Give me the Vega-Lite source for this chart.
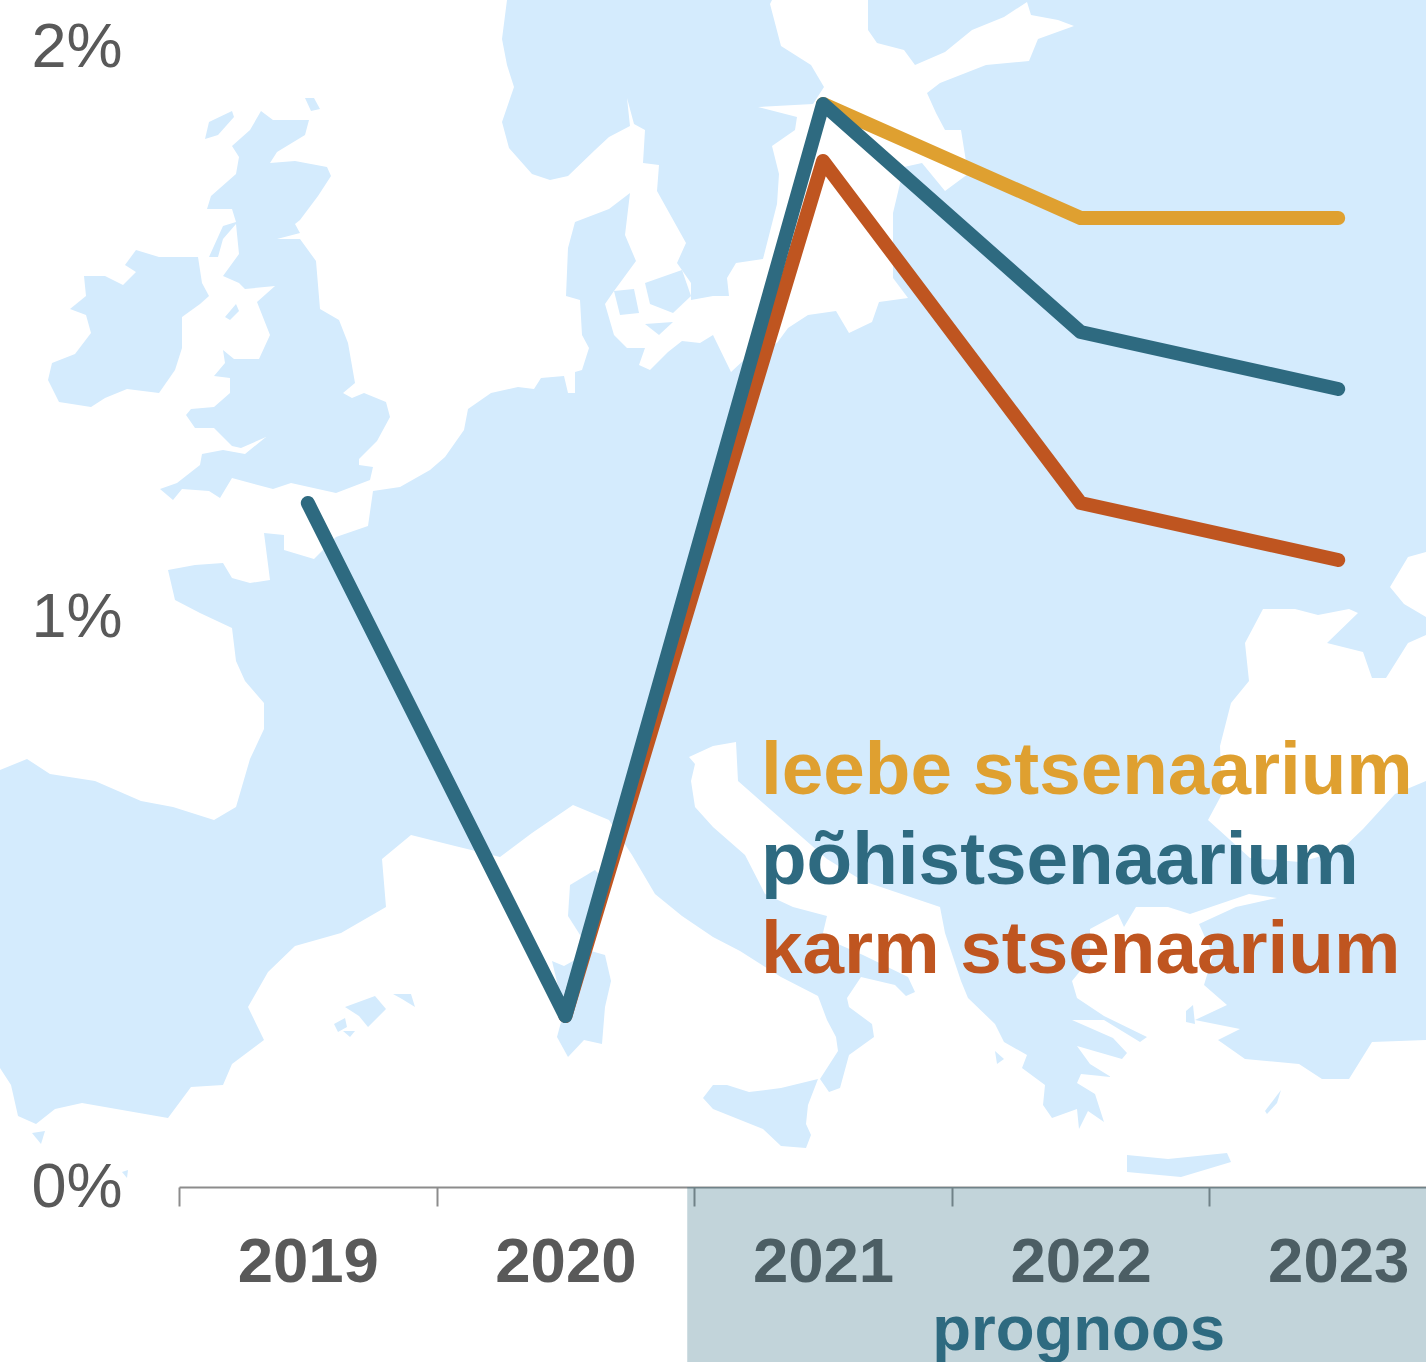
{"$schema":"https://vega.github.io/schema/vega-lite/v6.json","width":1426,"height":1187,"autosize":{"type":"none"},"padding":{"left":0,"top":0,"right":0,"bottom":175},"background":"white","config":{"view":{"stroke":null},"font":"Liberation Sans"},"layer":[{"data":{"values":[{"type":"Feature","properties":{"name":"mainland"},"geometry":{"type":"Polygon","coordinates":[[[868,0],[868,30],[877,43],[904,50],[915,65],[945,52],[972,30],[1004,17],[1027,2],[1031,15],[1058,20],[1074,26],[1038,39],[1029,61],[986,65],[940,83],[927,93],[936,113],[945,130],[961,130],[968,174],[945,191],[922,163],[904,167],[893,213],[893,278],[908,298],[879,302],[872,322],[849,333],[836,311],[808,315],[788,328],[777,343],[745,359],[731,372],[713,335],[700,343],[682,341],[668,352],[650,370],[639,365],[645,348],[627,348],[614,335],[605,304],[614,291],[636,261],[625,235],[630,193],[609,209],[575,222],[568,248],[566,296],[580,300],[582,335],[589,348],[582,370],[575,372],[575,393],[568,393],[564,376],[541,378],[534,389],[518,387],[491,393],[468,409],[464,430],[445,457],[430,470],[400,487],[373,491],[368,526],[336,537],[314,559],[284,550],[284,535],[264,533],[270,580],[250,583],[232,578],[223,563],[195,565],[168,570],[175,600],[200,613],[232,628],[236,661],[245,681],[264,703],[264,729],[250,759],[236,807],[214,820],[173,807],[141,801],[95,781],[50,774],[27,759],[0,770],[0,1068],[11,1085],[18,1116],[36,1124],[55,1109],[82,1103],[145,1114],[168,1118],[191,1087],[223,1085],[232,1064],[264,1040],[248,1007],[268,972],[295,946],[341,933],[386,907],[382,859],[411,835],[455,846],[500,857],[532,833],[573,805],[609,820],[632,855],[655,894],[682,916],[713,937],[740,951],[781,977],[818,996],[827,1020],[836,1037],[838,1051],[820,1079],[829,1092],[840,1088],[849,1055],[874,1037],[872,1024],[849,1007],[847,998],[861,977],[895,985],[906,996],[915,992],[908,977],[863,955],[822,937],[827,916],[793,907],[765,894],[745,855],[713,827],[695,807],[691,781],[695,764],[689,757],[713,746],[736,742],[738,781],[763,803],[827,859],[863,881],[940,907],[945,933],[961,981],[968,998],[995,1024],[1004,1042],[1027,1055],[1022,1068],[1045,1085],[1043,1105],[1052,1118],[1077,1109],[1079,1129],[1088,1111],[1104,1122],[1095,1094],[1077,1083],[1081,1074],[1111,1077],[1090,1064],[1077,1046],[1122,1059],[1127,1053],[1113,1038],[1072,1020],[1104,1020],[1140,1042],[1147,1037],[1104,1016],[1077,998],[1072,981],[1090,959],[1090,929],[1118,914],[1124,927],[1136,907],[1168,907],[1190,914],[1249,894],[1277,898],[1236,907],[1199,924],[1213,955],[1204,985],[1227,1005],[1195,1020],[1240,1029],[1218,1040],[1245,1059],[1299,1064],[1322,1079],[1349,1079],[1372,1042],[1426,1040],[1426,0],[868,0]],[[1208,820],[1222,794],[1220,746],[1231,703],[1249,681],[1245,643],[1263,609],[1295,609],[1318,615],[1349,609],[1358,613],[1327,643],[1363,652],[1372,678],[1386,678],[1408,643],[1426,635],[1426,781],[1395,794],[1363,829],[1340,851],[1300,862],[1250,858],[1208,820]],[[1390,587],[1408,557],[1426,552],[1426,617],[1404,604],[1390,587]]]}},{"type":"Feature","properties":{"name":"scandinavia"},"geometry":{"type":"Polygon","coordinates":[[[507,0],[502,39],[507,65],[514,87],[502,122],[509,148],[532,174],[550,180],[568,176],[595,150],[609,137],[630,126],[627,98],[634,124],[645,130],[643,163],[659,165],[657,191],[686,243],[677,263],[691,283],[691,300],[713,296],[729,296],[727,278],[736,263],[763,259],[777,204],[779,174],[772,146],[795,130],[797,117],[758,107],[813,104],[824,87],[811,65],[781,46],[770,4],[772,0],[507,0]]]}},{"type":"Feature","properties":{"name":"ireland"},"geometry":{"type":"Polygon","coordinates":[[[136,250],[159,257],[198,257],[202,283],[209,296],[200,304],[182,317],[182,348],[175,370],[159,393],[127,389],[105,398],[91,407],[59,402],[48,380],[52,363],[75,354],[91,333],[86,315],[70,309],[86,296],[84,276],[105,276],[123,285],[136,272],[125,265],[136,250]]]}},{"type":"Feature","properties":{"name":"britain"},"geometry":{"type":"Polygon","coordinates":[[[261,111],[273,120],[309,120],[305,135],[277,152],[270,163],[295,161],[327,167],[331,176],[318,196],[300,220],[295,224],[300,233],[277,239],[300,239],[316,261],[320,309],[339,320],[348,343],[355,383],[343,393],[352,398],[364,393],[386,402],[390,417],[377,441],[359,459],[359,465],[373,467],[370,480],[336,493],[291,483],[273,489],[232,478],[220,498],[209,491],[182,489],[173,500],[160,489],[177,483],[200,465],[202,454],[223,450],[245,454],[266,437],[241,448],[232,446],[214,428],[195,428],[186,415],[191,409],[214,407],[230,393],[230,378],[214,376],[225,363],[223,350],[234,359],[259,359],[270,335],[257,302],[275,286],[245,289],[239,283],[223,276],[239,254],[236,224],[223,239],[218,257],[209,257],[223,226],[236,222],[232,209],[207,209],[211,196],[236,174],[239,157],[232,146],[250,130],[261,111]]]}},{"type":"Feature","properties":{"name":"hebrides"},"geometry":{"type":"Polygon","coordinates":[[[205,139],[209,122],[232,111],[234,117],[218,135],[205,139]]]}},{"type":"Feature","properties":{"name":"shetland"},"geometry":{"type":"Polygon","coordinates":[[[305,98],[314,98],[320,109],[311,111],[305,98]]]}},{"type":"Feature","properties":{"name":"man"},"geometry":{"type":"Polygon","coordinates":[[[225,317],[236,304],[239,311],[230,320],[225,317]]]}},{"type":"Feature","properties":{"name":"funen"},"geometry":{"type":"Polygon","coordinates":[[[614,291],[634,289],[639,313],[620,315],[614,291]]]}},{"type":"Feature","properties":{"name":"zealand"},"geometry":{"type":"Polygon","coordinates":[[[645,283],[682,270],[691,296],[673,313],[650,304],[645,283]]]}},{"type":"Feature","properties":{"name":"lolland"},"geometry":{"type":"Polygon","coordinates":[[[645,324],[673,322],[659,335],[645,324]]]}},{"type":"Feature","properties":{"name":"corsica"},"geometry":{"type":"Polygon","coordinates":[[[595,870],[570,885],[568,916],[582,938],[595,942],[605,881],[595,870]]]}},{"type":"Feature","properties":{"name":"sardinia"},"geometry":{"type":"Polygon","coordinates":[[[552,961],[564,966],[591,951],[605,955],[611,981],[605,1007],[602,1044],[584,1040],[568,1057],[557,1037],[564,1011],[552,961]]]}},{"type":"Feature","properties":{"name":"mallorca"},"geometry":{"type":"Polygon","coordinates":[[[345,1007],[375,996],[386,1009],[368,1027],[359,1016],[345,1007]]]}},{"type":"Feature","properties":{"name":"menorca"},"geometry":{"type":"Polygon","coordinates":[[[393,994],[411,994],[415,1007],[402,999],[393,994]]]}},{"type":"Feature","properties":{"name":"ibiza"},"geometry":{"type":"Polygon","coordinates":[[[334,1024],[345,1018],[347,1027],[338,1032],[334,1024]]]}},{"type":"Feature","properties":{"name":"formentera"},"geometry":{"type":"Polygon","coordinates":[[[343,1031],[355,1031],[350,1037],[343,1031]]]}},{"type":"Feature","properties":{"name":"ceuta"},"geometry":{"type":"Polygon","coordinates":[[[32,1133],[45,1131],[41,1144],[32,1133]]]}},{"type":"Feature","properties":{"name":"alboran"},"geometry":{"type":"Polygon","coordinates":[[[122,1172],[128,1170],[127,1178],[122,1172]]]}},{"type":"Feature","properties":{"name":"sicily"},"geometry":{"type":"Polygon","coordinates":[[[703,1098],[713,1085],[727,1085],[749,1092],[781,1088],[818,1079],[808,1105],[806,1124],[811,1135],[806,1148],[781,1146],[763,1129],[713,1109],[703,1098]]]}},{"type":"Feature","properties":{"name":"crete"},"geometry":{"type":"Polygon","coordinates":[[[1127,1155],[1168,1159],[1227,1153],[1231,1162],[1181,1177],[1127,1172],[1127,1155]]]}},{"type":"Feature","properties":{"name":"lesbos"},"geometry":{"type":"Polygon","coordinates":[[[1186,1011],[1193,1005],[1195,1024],[1186,1022],[1186,1011]]]}},{"type":"Feature","properties":{"name":"rhodes"},"geometry":{"type":"Polygon","coordinates":[[[1265,1111],[1281,1090],[1277,1103],[1267,1114],[1265,1111]]]}},{"type":"Feature","properties":{"name":"cephalonia"},"geometry":{"type":"Polygon","coordinates":[[[995,1051],[1004,1059],[997,1064],[995,1051]]]}}]},"mark":{"type":"geoshape","fill":"#d4ebfd","stroke":null},"projection":{"type":"identity","scale":1,"translate":[0,0]}},{"data":{"values":[{"series":"leebe stsenaarium","year":"2021","value":1.9},{"series":"leebe stsenaarium","year":"2022","value":1.7},{"series":"leebe stsenaarium","year":"2023","value":1.7},{"series":"karm stsenaarium","year":"2020","value":0.3},{"series":"karm stsenaarium","year":"2021","value":1.8},{"series":"karm stsenaarium","year":"2022","value":1.2},{"series":"karm stsenaarium","year":"2023","value":1.1},{"series":"põhistsenaarium","year":"2019","value":1.2},{"series":"põhistsenaarium","year":"2020","value":0.3},{"series":"põhistsenaarium","year":"2021","value":1.9},{"series":"põhistsenaarium","year":"2022","value":1.5},{"series":"põhistsenaarium","year":"2023","value":1.4}]},"mark":{"type":"line","strokeWidth":14,"strokeCap":"round","strokeJoin":"round"},"encoding":{"x":{"field":"year","type":"ordinal","sort":null,"scale":{"type":"band","domain":["2019","2020","2021","2022","2023"],"range":[179,1467],"paddingInner":0,"paddingOuter":0},"axis":{"title":null,"labelAngle":0,"tickBand":"extent","domainColor":"#8c8c8c","domainWidth":2,"tickColor":"#8c8c8c","tickWidth":2,"tickSize":19,"labelFont":"Liberation Sans","labelFontWeight":"bold","labelFontSize":63.5,"labelColor":"#595959","labelPadding":25,"labelOverlap":false,"labelBound":false,"labelFlush":false}},"y":{"field":"value","type":"quantitative","scale":{"domain":[0,2.0825],"nice":false,"zero":false},"axis":{"title":null,"values":[0,1,2],"labelExpr":"datum.value + '%'","domain":false,"ticks":false,"grid":false,"offset":-130,"labelPadding":8,"labelFont":"Liberation Sans","labelFontSize":63,"labelColor":"#595959","labelBound":false,"labelFlush":false,"labelOverlap":false}},"color":{"field":"series","type":"nominal","scale":{"domain":["leebe stsenaarium","põhistsenaarium","karm stsenaarium"],"range":["#dfa030","#2e6a80","#bf5520"]},"legend":null},"order":{"field":"year"}}},{"data":{"values":[{"label":"leebe stsenaarium","series":"leebe stsenaarium","year":"2021","value":0.689},{"label":"põhistsenaarium","series":"põhistsenaarium","year":"2021","value":0.532},{"label":"karm stsenaarium","series":"karm stsenaarium","year":"2021","value":0.376}]},"mark":{"type":"text","align":"left","baseline":"alphabetic","fontWeight":"bold","fontSize":74.7,"dx":-62,"font":"Liberation Sans"},"encoding":{"x":{"field":"year","type":"ordinal"},"y":{"field":"value","type":"quantitative"},"text":{"field":"label"},"color":{"field":"series","type":"nominal"}}},{"data":{"values":[{"from":"2021","to":"2023","top":0,"bottom":-0.307}]},"mark":{"type":"rect","fill":"#2e6a80","fillOpacity":0.29},"encoding":{"x":{"field":"from","type":"ordinal","bandPosition":-0.027},"x2":{"field":"to","bandPosition":1},"y":{"field":"top","type":"quantitative"},"y2":{"field":"bottom"}}},{"data":{"values":[{"label":"prognoos","year":"2022","value":-0.286}]},"mark":{"type":"text","align":"center","baseline":"alphabetic","fontWeight":"bold","fontSize":63.5,"fill":"#2e6a80","font":"Liberation Sans","dx":-2},"encoding":{"x":{"field":"year","type":"ordinal"},"y":{"field":"value","type":"quantitative"},"text":{"field":"label"}}}]}
